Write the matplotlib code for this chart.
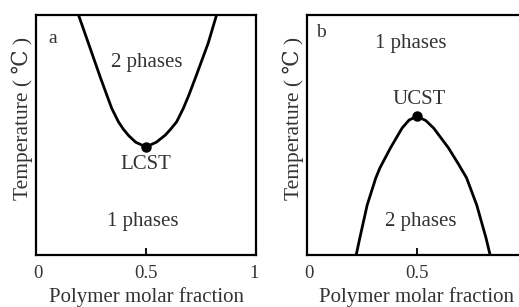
import matplotlib
matplotlib.use("Agg")
import matplotlib.pyplot as plt

plt.rcParams["font.family"] = ["Liberation Serif", "DejaVu Serif"]

# panel a: LCST curve
lcst_x = [0.187, 0.233, 0.287, 0.318, 0.341, 0.372, 0.395, 0.42, 0.452, 0.5,
          0.548, 0.59, 0.614, 0.642, 0.673, 0.699, 0.731, 0.788, 0.827]
lcst_y = [1.0, 0.882, 0.743, 0.667, 0.611, 0.555, 0.524, 0.497, 0.47, 0.45,
          0.47, 0.5, 0.524, 0.555, 0.611, 0.667, 0.743, 0.882, 1.0]
lcst_point = (0.5, 0.45)

# panel b: UCST curve
ucst_x = [0.218, 0.235, 0.269, 0.309, 0.328, 0.377, 0.431, 0.463, 0.5,
          0.541, 0.577, 0.646, 0.69, 0.73, 0.777, 0.82, 0.839]
ucst_y = [0.0, 0.071, 0.208, 0.321, 0.3625, 0.446, 0.529, 0.562, 0.578,
          0.56, 0.529, 0.446, 0.382, 0.321, 0.208, 0.071, 0.0]
ucst_point = (0.5, 0.578)

xticks = [0, 0.5, 1]
xtick_labels = ["0", "0.5", "1"]

text_color = "#333333"

fig = plt.figure(figsize=(5.19, 3.07), dpi=100)
ax_a = fig.add_axes([0.0694, 0.1694, 0.4239, 0.7818])
ax_b = fig.add_axes([0.5915, 0.1694, 0.4239, 0.7818])


def style(ax, labels):
    ax.set_xlim(-0.01, 1.01)
    ax.set_ylim(0, 1)
    ax.set_xticks(xticks[:len(labels)])
    ax.set_xticklabels(labels)
    ax.set_yticks([])
    ax.tick_params(axis="x", direction="in", length=5, width=1.3,
                   labelsize=13.5, labelcolor=text_color, pad=7)
    # only the 0.5 tick mark is drawn
    for i, t in enumerate(ax.xaxis.get_major_ticks()):
        if xticks[i] != 0.5:
            t.tick1line.set_visible(False)
    for s in ax.spines.values():
        s.set_linewidth(1.6)
    ax.set_xlabel("Polymer molar fraction", fontsize=15, color=text_color, labelpad=4)
    ax.set_ylabel("Temperature ( ℃ )", fontsize=15.5, color=text_color)
    ax.yaxis.set_label_coords(-0.012, 0.57)


style(ax_a, xtick_labels)
ax_a.plot(lcst_x, lcst_y, color="black", lw=2, solid_joinstyle="round")
ax_a.plot(*lcst_point, "o", color="black", ms=6.5)
ax_a.text(0.065, 0.9, "a", fontsize=14, color=text_color, ha="center", va="center")
ax_a.text(0.505, 0.8, "2 phases", fontsize=15, color=text_color, ha="center", va="center")
ax_a.text(0.5, 0.375, "LCST", fontsize=15, color=text_color, ha="center", va="center")
ax_a.text(0.486, 0.1375, "1 phases", fontsize=15, color=text_color, ha="center", va="center")

style(ax_b, xtick_labels[:2])
ax_b.plot(ucst_x, ucst_y, color="black", lw=2, solid_joinstyle="round")
ax_b.plot(*ucst_point, "o", color="black", ms=6.5)
ax_b.text(0.055, 0.925, "b", fontsize=14, color=text_color, ha="center", va="center")
ax_b.text(0.47, 0.883, "1 phases", fontsize=15, color=text_color, ha="center", va="center")
ax_b.text(0.508, 0.646, "UCST", fontsize=15, color=text_color, ha="center", va="center")
ax_b.text(0.517, 0.1375, "2 phases", fontsize=15, color=text_color, ha="center", va="center")

fig.savefig("out.png", dpi=100)
